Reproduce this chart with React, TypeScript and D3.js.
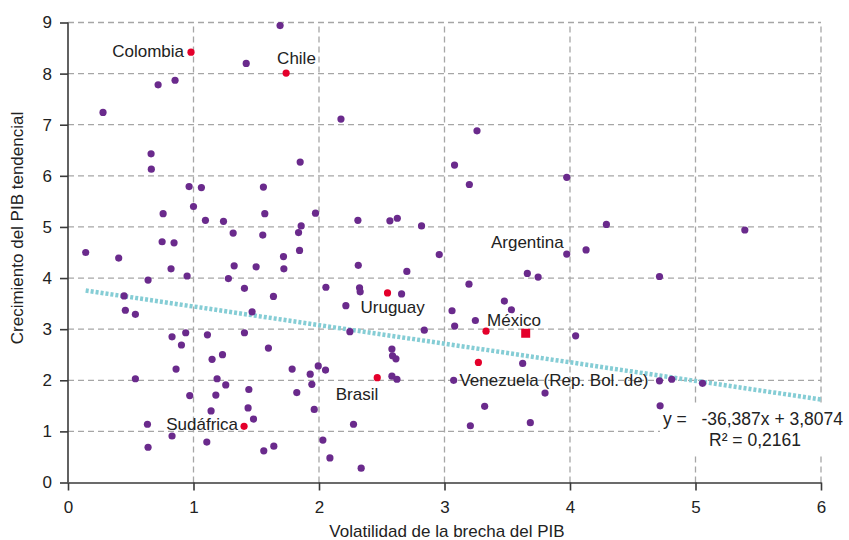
import React, { useRef, useEffect } from "react";
import * as d3 from "d3";

// purple points: volatility of output gap (x) vs trend GDP growth (y)
const otherX = [
  0.718, 0.853, 1.42, 0.279, 0.662, 0.664, 1.69, 2.175, 1.85, 3.259, 3.08, 3.974,
  0.965, 1.063, 1.0, 0.758, 1.095, 1.239, 1.316, 0.75, 0.845, 0.141, 0.404, 0.821,
  1.324, 1.499, 0.638, 0.949, 1.278, 1.406, 0.447, 0.457, 0.537, 1.467, 0.829, 0.938,
  1.111, 1.406, 1.557, 1.568, 1.972, 1.552, 1.858, 1.837, 1.845, 1.717, 1.72, 2.31,
  2.565, 2.624, 2.817, 2.958, 2.313, 2.7, 1.637, 2.055, 2.323, 2.328, 2.658, 2.214,
  2.839, 2.246, 3.06, 3.198, 4.29, 3.974, 4.128, 3.66, 3.746, 3.195, 3.477, 3.533,
  3.246, 3.081, 4.045, 5.393, 4.713, 0.904, 1.148, 1.231, 0.861, 0.537, 1.188, 1.257,
  1.441, 0.97, 1.178, 1.435, 1.14, 1.478, 0.633, 0.829, 0.638, 1.106, 1.597, 1.786,
  1.93, 1.994, 2.052, 1.943, 1.823, 1.962, 2.275, 2.031, 1.64, 1.56, 2.087, 2.336,
  2.581, 2.586, 2.613, 2.581, 2.621, 3.623, 3.073, 3.801, 3.32, 3.206, 3.684, 4.713,
  4.811, 5.056, 4.718,
];
const otherY = [
  7.78, 7.87, 8.2, 7.24, 6.43, 6.13, 8.94, 7.11, 6.27, 6.88, 6.21, 5.97,
  5.79, 5.77, 5.4, 5.26, 5.13, 5.11, 4.88, 4.71, 4.69, 4.5, 4.39, 4.18,
  4.24, 4.22, 3.96, 4.04, 3.99, 3.8, 3.65, 3.37, 3.29, 3.34, 2.85, 2.93,
  2.89, 2.93, 5.78, 5.26, 5.27, 4.84, 5.02, 4.89, 4.54, 4.42, 4.18, 5.13,
  5.12, 5.17, 5.02, 4.46, 4.25, 4.13, 3.64, 3.82, 3.81, 3.73, 3.69, 3.46,
  2.98, 2.95, 3.36, 5.83, 5.05, 4.47, 4.55, 4.09, 4.02, 3.88, 3.55, 3.38,
  3.17, 3.06, 2.87, 4.94, 4.03, 2.69, 2.41, 2.5, 2.22, 2.03, 2.03, 1.91,
  1.82, 1.7, 1.71, 1.46, 1.4, 1.24, 1.14, 0.91, 0.69, 0.79, 2.63, 2.22,
  2.12, 2.28, 2.2, 1.92, 1.76, 1.43, 1.14, 0.83, 0.71, 0.62, 0.48, 0.28,
  2.61, 2.48, 2.42, 2.08, 2.02, 2.33, 2.0, 1.75, 1.49, 1.11, 1.17, 1.99,
  2.02, 1.94, 1.5,
];

// highlighted (red) countries
const redNames = ["Colombia", "Chile", "Uruguay", "México", "Venezuela (Rep. Bol. de)", "Brasil", "Sudáfrica"];
const redX = [0.98, 1.738, 2.546, 3.331, 3.27, 2.464, 1.403];
const redY = [8.42, 8.01, 3.71, 2.96, 2.35, 2.05, 1.1];

// red square (regional reference)
const squareX = [3.647];
const squareY = [2.92];

// Argentina is labelled on a purple point
const extraNames = ["Argentina"];
const extraX = [3.974];
const extraY = [4.47];

const xTicks = [0, 1, 2, 3, 4, 5, 6];
const yTicks = [0, 1, 2, 3, 4, 5, 6, 7, 8, 9];

// trend: y = -0.36387x + 3.8074 (shown as -36,387x + 3,8074)
const slope = -0.36387;
const intercept = 3.8074;
const eqText = "y =   -36,387x + 3,8074";
const r2Text = "R² = 0,2161";

const xTitle = "Volatilidad de la brecha del PIB";
const yTitle = "Crecimiento del PIB tendencial";

// label placement relative to the point (px)
const labelPos = {
  "Colombia": { dx: -7, dy: 5, anchor: "end" },
  "Chile": { dx: -9, dy: -9, anchor: "start" },
  "Uruguay": { dx: -27, dy: 20, anchor: "start" },
  "México": { dx: 1, dy: -5, anchor: "start" },
  "Venezuela (Rep. Bol. de)": { dx: -19, dy: 24, anchor: "start" },
  "Brasil": { dx: 1, dy: 22, anchor: "end" },
  "Sudáfrica": { dx: -6, dy: 4, anchor: "end" },
  "Argentina": { dx: -3, dy: -6, anchor: "end" },
};

const FONT = "'Liberation Sans', Arial, sans-serif";
const FS = "17px";

export default function App() {
  const svgRef = useRef(null);

  useEffect(() => {
    document.body.style.margin = "0";
    const width = 849;
    const height = 540;
    const margin = { top: 22.5, right: 28, bottom: 57.5, left: 68 };

    const svg = d3.select(svgRef.current);
    svg.selectAll("*").remove();
    svg.attr("width", width).attr("height", height);

    const x = d3.scaleLinear().domain([0, 6]).range([margin.left, width - margin.right]);
    const y = d3.scaleLinear().domain([0, 9]).range([height - margin.bottom, margin.top]);

    const grid = svg.append("g");
    // horizontal grid
    grid.selectAll(".hg")
      .data(yTicks.filter(d => d > 0))
      .enter()
      .append("line")
      .attr("x1", x(0))
      .attr("x2", x(6))
      .attr("y1", d => y(d))
      .attr("y2", d => y(d))
      .attr("stroke", "#a6a6a6")
      .attr("stroke-width", 1.3)
      .attr("stroke-dasharray", "6,4");
    // vertical grid
    grid.selectAll(".vg")
      .data(xTicks.filter(d => d > 0))
      .enter()
      .append("line")
      .attr("x1", d => x(d))
      .attr("x2", d => x(d))
      .attr("y1", y(0))
      .attr("y2", y(9))
      .attr("stroke", "#a6a6a6")
      .attr("stroke-width", 1.3)
      .attr("stroke-dasharray", "6,4");

    // axes
    const xAxis = svg.append("g")
      .attr("transform", `translate(0,${y(0)})`)
      .call(d3.axisBottom(x).tickValues(xTicks).tickFormat(d3.format("d")).tickSize(8).tickSizeOuter(0).tickPadding(10));
    const yAxis = svg.append("g")
      .attr("transform", `translate(${x(0)},0)`)
      .call(d3.axisLeft(y).tickValues(yTicks).tickFormat(d3.format("d")).tickSize(8).tickSizeOuter(0).tickPadding(8));
    [xAxis, yAxis].forEach(a => {
      a.select(".domain").attr("stroke", "#3a3a3a").attr("stroke-width", 1.6);
      a.selectAll(".tick line").attr("stroke", "#3a3a3a").attr("stroke-width", 1.6);
      a.selectAll(".tick text")
        .attr("fill", "#222")
        .style("font-family", FONT)
        .style("font-size", FS);
    });
    yAxis.select(".domain").attr("d", `M0,${y(0)}V${y(9)}`);

    // trend line
    const xMin = d3.min(otherX);
    const line = d3.line().x(d => x(d[0])).y(d => y(d[1]));
    svg.append("path")
      .attr("d", line([[xMin, slope * xMin + intercept], [6, slope * 6 + intercept]]))
      .attr("fill", "none")
      .attr("stroke", "#85cdd5")
      .attr("stroke-width", 4.5)
      .attr("stroke-dasharray", "3,2");

    // equation box (white background hides grid)
    svg.append("rect")
      .attr("x", 660)
      .attr("y", 403)
      .attr("width", 189)
      .attr("height", 50)
      .attr("fill", "#fff");
    svg.append("text")
      .attr("x", 663)
      .attr("y", 425)
      .text(eqText)
      .style("font-family", FONT)
      .style("font-size", "17.5px")
      .style("white-space", "pre")
      .attr("fill", "#222");
    svg.append("text")
      .attr("x", 755)
      .attr("y", 446)
      .attr("text-anchor", "middle")
      .text(r2Text)
      .style("font-family", FONT)
      .style("font-size", "17.5px")
      .attr("fill", "#222");

    // points
    const pts = otherX.map((v, i) => [v, otherY[i]]);
    svg.selectAll(".pt")
      .data(pts)
      .enter()
      .append("circle")
      .attr("cx", d => x(d[0]))
      .attr("cy", d => y(d[1]))
      .attr("r", 3.6)
      .attr("fill", "#6a2a8c");

    const reds = redNames.map((n, i) => ({ name: n, x: redX[i], y: redY[i] }));
    svg.selectAll(".red")
      .data(reds)
      .enter()
      .append("circle")
      .attr("cx", d => x(d.x))
      .attr("cy", d => y(d.y))
      .attr("r", 3.6)
      .attr("fill", "#e4002b");

    svg.selectAll(".sq")
      .data(squareX.map((v, i) => [v, squareY[i]]))
      .enter()
      .append("rect")
      .attr("x", d => x(d[0]) - 4.5)
      .attr("y", d => y(d[1]) - 4.5)
      .attr("width", 9)
      .attr("height", 9)
      .attr("fill", "#e4002b");

    // labels
    const labelled = reds.concat(extraNames.map((n, i) => ({ name: n, x: extraX[i], y: extraY[i] })));
    svg.selectAll(".lbl")
      .data(labelled)
      .enter()
      .append("text")
      .attr("x", d => x(d.x) + labelPos[d.name].dx)
      .attr("y", d => y(d.y) + labelPos[d.name].dy)
      .attr("text-anchor", d => labelPos[d.name].anchor)
      .text(d => d.name)
      .style("font-family", FONT)
      .style("font-size", FS)
      .attr("fill", "#222");

    // axis titles
    svg.append("text")
      .attr("x", 447)
      .attr("y", 537)
      .attr("text-anchor", "middle")
      .text(xTitle)
      .style("font-family", FONT)
      .style("font-size", FS)
      .attr("fill", "#222");
    svg.append("text")
      .attr("transform", `translate(23,228) rotate(-90)`)
      .attr("text-anchor", "middle")
      .text(yTitle)
      .style("font-family", FONT)
      .style("font-size", FS)
      .attr("fill", "#222");
  }, []);

  return <svg ref={svgRef}></svg>;
}
